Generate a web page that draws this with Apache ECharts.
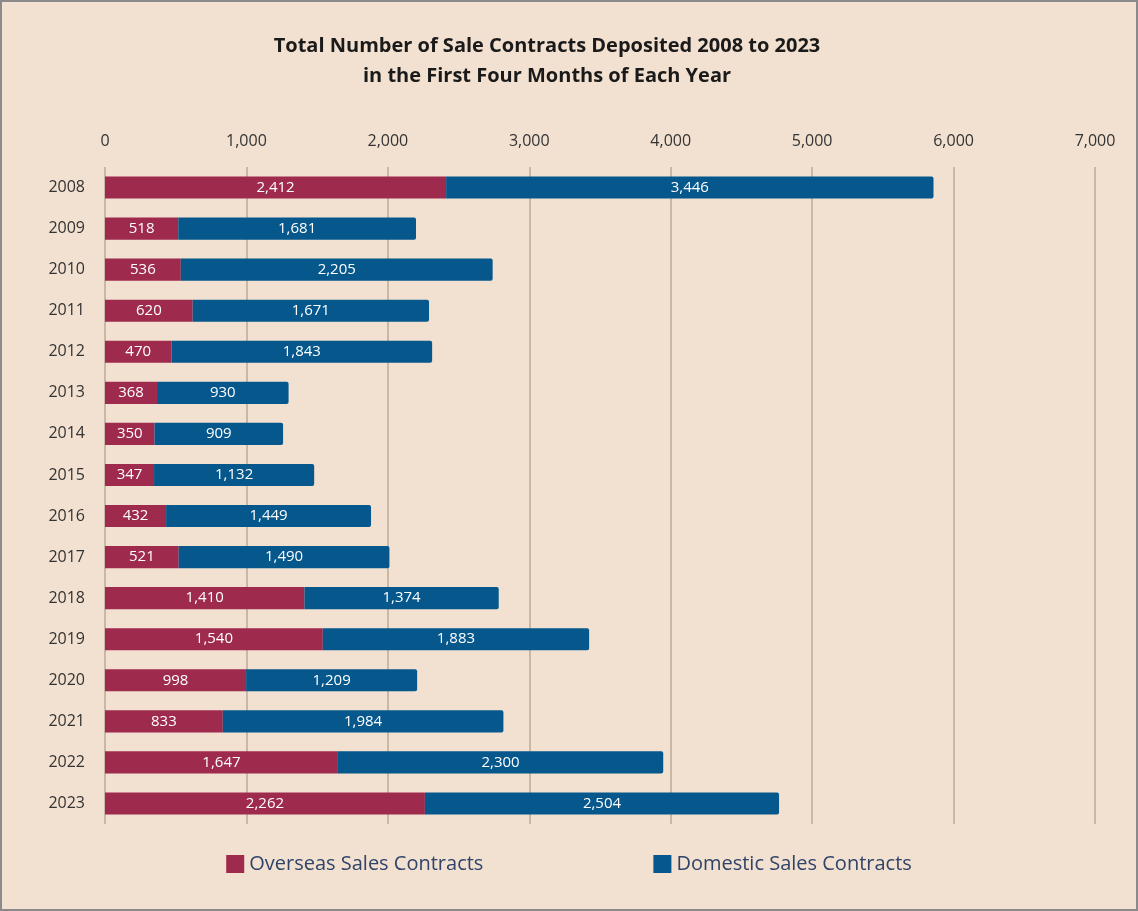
<!DOCTYPE html>
<html><head><meta charset="utf-8">
<script src="https://cdn.jsdelivr.net/npm/echarts@6/dist/echarts.min.js"></script>
<style>
html,body{margin:0;padding:0;background:#F2E0D0;}
#c{position:absolute;left:0;top:0;width:1134px;height:907px;border:2px solid #8a8a8a;}
</style></head><body>
<div id="c"></div>
<script>
const years = ['2008','2009','2010','2011','2012','2013','2014','2015','2016','2017','2018','2019','2020','2021','2022','2023'];
const overseas = [2412,518,536,620,470,368,350,347,432,521,1410,1540,998,833,1647,2262];
const domestic = [3446,1681,2205,1671,1843,930,909,1132,1449,1490,1374,1883,1209,1984,2300,2504];
const chart = echarts.init(document.getElementById('c'));
const fmt = v => v.toLocaleString('en-US');
const lbl = {show:true, position:'inside', color:'#fff', fontSize:15, fontFamily:'Open Sans', formatter:p=>fmt(p.value)};
chart.setOption({
  backgroundColor:'#F2E0D0',
  title:{text:'Total Number of Sale Contracts Deposited 2008 to 2023\nin the First Four Months of Each Year', left:540, textAlign:'center', top:24,
    textStyle:{fontSize:20, fontWeight:'bold', color:'#1a1a1a', fontFamily:'Open Sans', lineHeight:30}},
  grid:{left:103, right:41, top:165, bottom:85},
  legend:{bottom:30, left:'center', itemGap:170, itemWidth:18, itemHeight:18, icon:'rect',
    textStyle:{fontSize:20, color:'#2f4468', fontFamily:'Open Sans'}},
  xAxis:{type:'value', position:'top', min:0, max:7000, interval:1000,
    axisLine:{show:false}, axisTick:{show:false},
    axisLabel:{formatter:v=>fmt(v), fontSize:16, color:'#333', fontFamily:'Open Sans', margin:18},
    splitLine:{lineStyle:{color:'#c9b8a6', width:2}}},
  yAxis:{type:'category', data:years, inverse:true,
    axisLine:{show:false}, axisTick:{show:false},
    axisLabel:{fontSize:16, color:'#333', fontFamily:'Open Sans', margin:20}},
  series:[
    {name:'Overseas Sales Contracts', type:'bar', stack:'a', data:overseas, barWidth:'54%', itemStyle:{color:'#9E2B4E'}, label:lbl},
    {name:'Domestic Sales Contracts', type:'bar', stack:'a', data:domestic, barWidth:'54%', itemStyle:{color:'#05578C', borderRadius:[0,2,2,0]}, label:lbl}
  ]
});
</script></body></html>
